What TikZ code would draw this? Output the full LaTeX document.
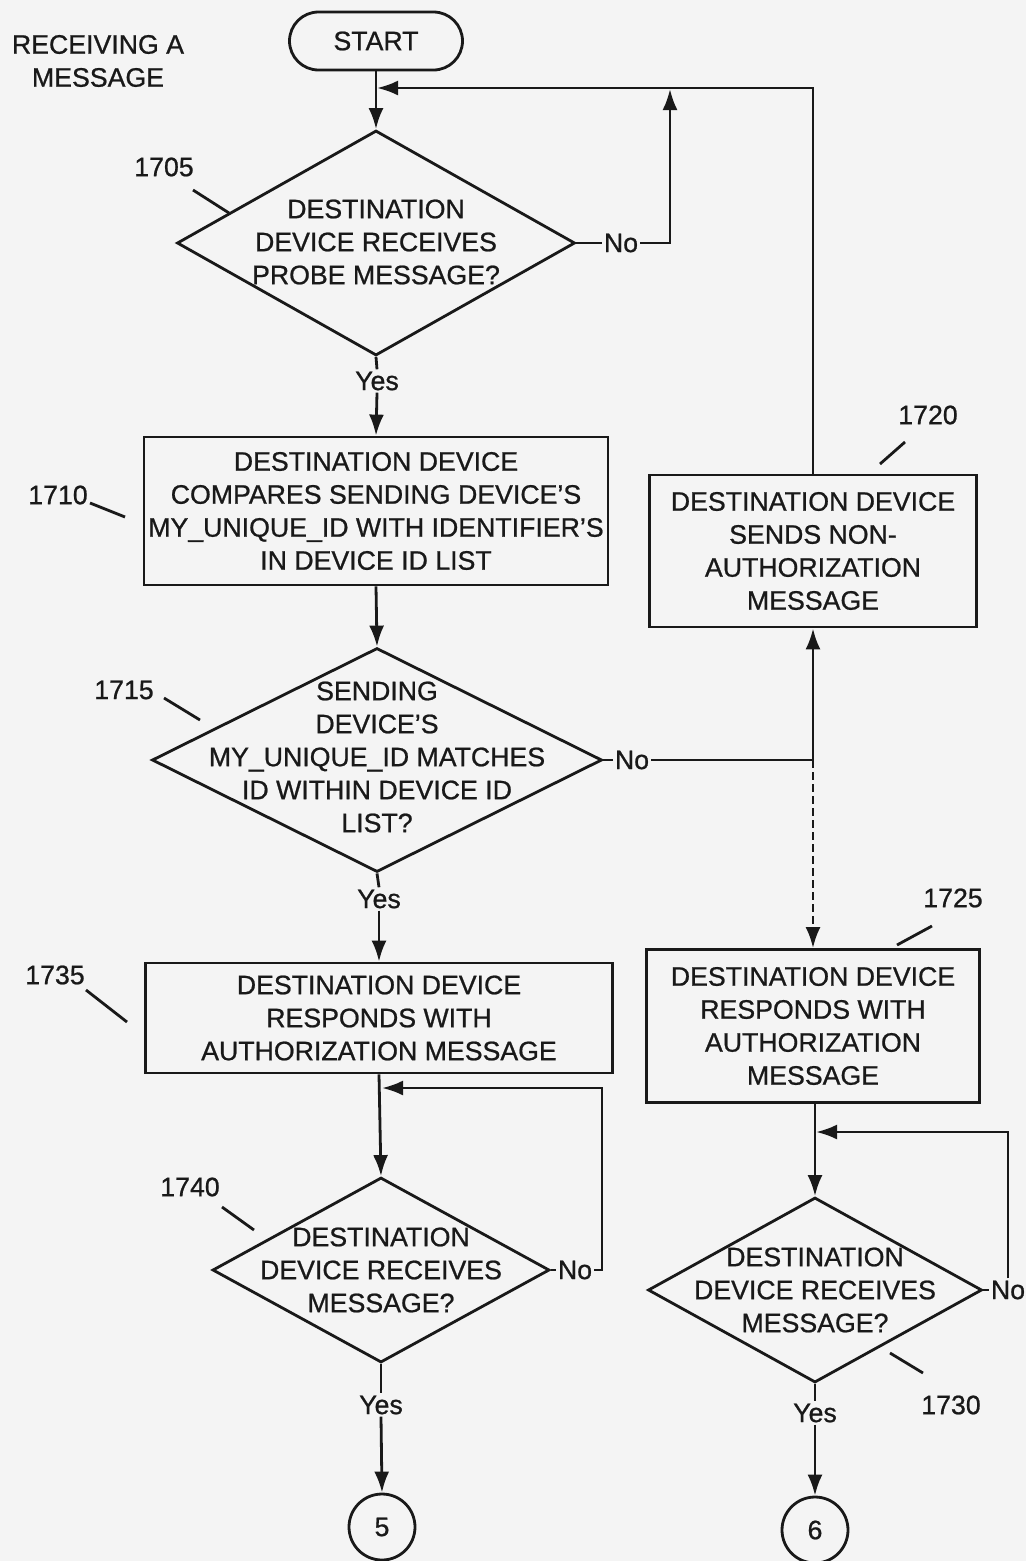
\documentclass[tikz,border=0pt]{standalone}
\usepackage{fontspec}
\setmainfont{Liberation Sans}[FakeBold=0.8]
\usetikzlibrary{shapes.geometric,arrows.meta}
\definecolor{bg}{RGB}{244,244,244}
\definecolor{ink}{RGB}{25,25,25}
\begin{document}
\begin{tikzpicture}[x=1pt,y=-1pt,line width=2.8pt,
  every node/.style={font=\fontsize{26.7}{33}\selectfont,text=ink},
  box/.style={draw=ink,rectangle,inner sep=0pt,align=center},
  dia/.style={draw=ink,diamond,inner sep=0pt},
  dtext/.style={align=center,inner sep=0pt},
  lbl/.style={inner sep=1pt},
  conn/.style={draw=ink},
  arr/.style={draw=ink,-{Latex[length=21pt,width=15pt]}},
  dashline/.style={dash pattern=on 8pt off 4pt},
  conncircle/.style={draw=ink,circle,minimum size=66pt,inner sep=0pt}]
\fill[bg] (0,0) rectangle (1026,1561);
\useasboundingbox (0,0) rectangle (1026,1561);

% title
\node[lbl,align=center] (title) at (98,61) {RECEIVING A\\MESSAGE};

% left column
\node[draw=ink,rectangle,rounded corners=29pt,minimum width=173pt,minimum height=58pt,inner sep=0pt] (start) at (376,41) {START};
\node[dia,minimum width=398pt,minimum height=225pt] (d1) at (376,243) {};
\node[dtext] (t1) at (376,242) {DESTINATION\\DEVICE RECEIVES\\PROBE MESSAGE?};
\node[lbl] (yes1) at (377,381) {Yes};
\node[box,minimum width=464pt,minimum height=148pt] (b1710) at (376,511) {DESTINATION DEVICE\\COMPARES SENDING DEVICE'S\\MY\_UNIQUE\_ID WITH IDENTIFIER'S\\IN DEVICE ID LIST};
\node[dia,minimum width=450pt,minimum height=224pt] (d2) at (377,760) {};
\node[dtext] (t2) at (377,757) {SENDING\\DEVICE'S\\MY\_UNIQUE\_ID MATCHES\\ID WITHIN DEVICE ID\\LIST?};
\node[lbl] (yes2) at (379,899) {Yes};
\node[box,minimum width=467pt,minimum height=110pt] (b1735) at (379,1018) {DESTINATION DEVICE\\RESPONDS WITH\\AUTHORIZATION MESSAGE};
\node[dia,minimum width=337pt,minimum height=185pt] (d4) at (381,1270) {};
\node[dtext] (t4) at (381,1270) {DESTINATION\\DEVICE RECEIVES\\MESSAGE?};
\node[lbl] (yes4) at (381,1405) {Yes};
\node[conncircle] (c5) at (382,1527) {5};

% right column
\node[box,minimum width=327pt,minimum height=152pt] (b1720) at (813,551) {DESTINATION DEVICE\\SENDS NON-\\AUTHORIZATION\\MESSAGE};
\node[box,minimum width=333pt,minimum height=153pt] (b1725) at (813,1026) {DESTINATION DEVICE\\RESPONDS WITH\\AUTHORIZATION\\MESSAGE};
\node[dia,minimum width=334pt,minimum height=185pt] (d3) at (815,1290) {};
\node[dtext] (t3) at (815,1290) {DESTINATION\\DEVICE RECEIVES\\MESSAGE?};
\node[lbl] (yes3) at (815,1413) {Yes};
\node[conncircle] (c6) at (815,1530) {6};

% No labels
\node[lbl] (no1) at (621,243) {No};
\node[lbl] (no2) at (632,760) {No};
\node[lbl] (no4) at (575,1270) {No};
\node[lbl] (no3) at (1008,1290) {No};

% reference numerals
\node[lbl] (l1705) at (164,167) {1705};
\node[lbl] (l1710) at (58,495) {1710};
\node[lbl] (l1715) at (124,690) {1715};
\node[lbl] (l1720) at (928,415) {1720};
\node[lbl] (l1725) at (953,898) {1725};
\node[lbl] (l1735) at (55,975) {1735};
\node[lbl] (l1740) at (190,1187) {1740};
\node[lbl] (l1730) at (951,1405) {1730};

% leader line coordinates
\coordinate (a1705) at (193,190); \coordinate (e1705) at (229,213);
\coordinate (a1710) at (90,503);  \coordinate (e1710) at (125,517);
\coordinate (a1715) at (164,698); \coordinate (e1715) at (200,720);
\coordinate (a1720) at (905,442); \coordinate (e1720) at (880,464);
\coordinate (a1725) at (932,926); \coordinate (e1725) at (897,945);
\coordinate (a1735) at (86,990);  \coordinate (e1735) at (127,1022);
\coordinate (a1740) at (222,1207); \coordinate (e1740) at (254,1230);
\coordinate (a1730) at (923,1373); \coordinate (e1730) at (890,1353);
\foreach \n in {1705,1710,1715,1720,1725,1735,1740,1730}{
  \draw[conn] (a\n) -- (e\n);
}

% junction coordinates
\coordinate (jA) at (377,88);
\coordinate (jB) at (670,89);
\coordinate (jC) at (813,760);
\coordinate (cD) at (602,1088);
\coordinate (jD) at (382,1088);
\coordinate (jE) at (816,1132);

% connectors
\draw[arr] (start) -- (d1);
\draw[arr] (b1720.north) |- (jA);
\draw[conn] (d1.east) -- (no1.west);
\draw[arr] (no1.east) -| (jB);
\draw[conn] (d1.south) -- (yes1.north);
\draw[arr] (yes1.south) -- (b1710.north);
\draw[arr] (b1710.south) -- (d2.north);
\draw[conn] (d2.east) -- (no2.west);
\draw[conn] (no2.east) -- (jC);
\draw[arr] (jC) -- (b1720.south);
\draw[arr,dashline] (jC) -- (b1725.north);
\draw[conn] (d2.south) -- (yes2.north);
\draw[arr] (yes2.south) -- (b1735.north);
\draw[arr] (b1735.south) -- (d4.north);
\draw[conn] (d4.east) -- (no4.west);
\draw[arr] (no4.east) -| (cD) -- (jD);
\draw[conn] (d4.south) -- (yes4.north);
\draw[arr] (yes4.south) -- (c5.north);
\draw[arr] (b1725.south -| d3.north) -- (d3.north);
\draw[conn] (d3.east) -- (no3.west);
\draw[arr] (no3.north) |- (jE);
\draw[conn] (d3.south) -- (yes3.north);
\draw[arr] (yes3.south) -- (c6.north);
\end{tikzpicture}
\end{document}
